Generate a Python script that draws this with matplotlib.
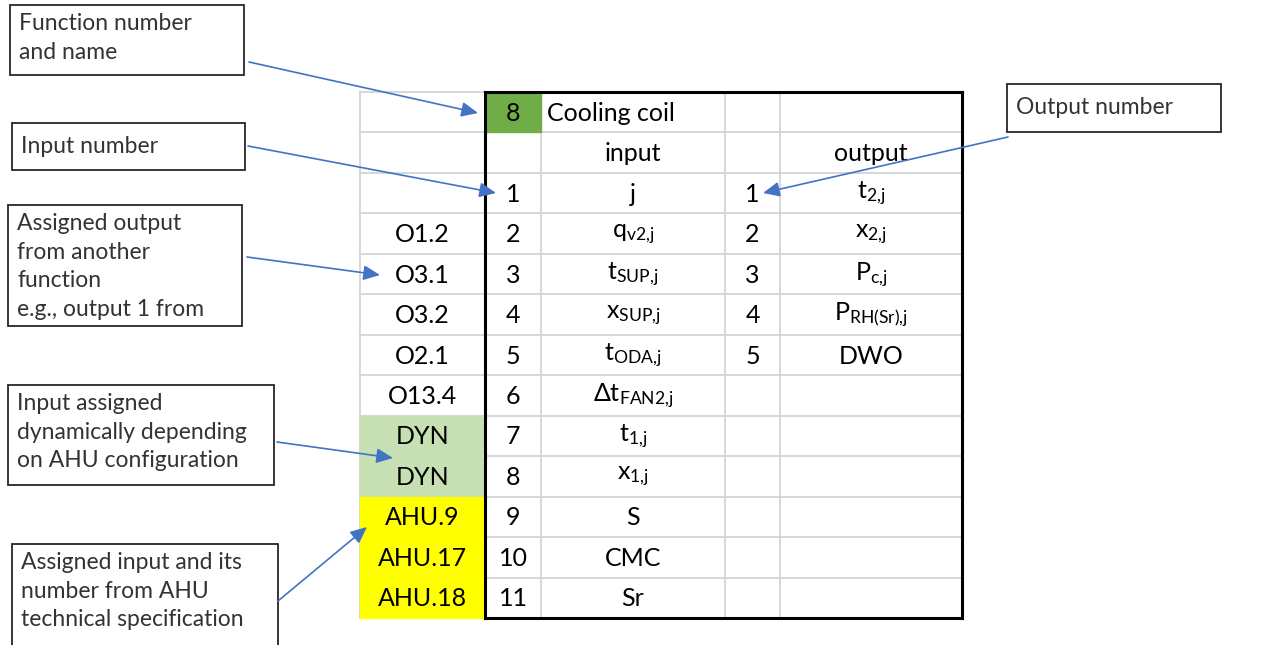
import matplotlib.pyplot as plt
from matplotlib.patches import Rectangle

plt.rcParams['mathtext.fontset'] = 'custom'
plt.rcParams['mathtext.rm'] = 'Lato'
plt.rcParams['mathtext.it'] = 'Lato:italic'
plt.rcParams['mathtext.bf'] = 'Lato:bold'

# table content
func_no = '8'
func_name = 'Cooling coil'
assigned = ['', '', '', 'O1.2', 'O3.1', 'O3.2', 'O2.1', 'O13.4',
            'DYN', 'DYN', 'AHU.9', 'AHU.17', 'AHU.18']
in_no = ['', '', '1', '2', '3', '4', '5', '6', '7', '8', '9', '10', '11']
in_name = ['', 'input', 'j', r'$\mathregular{q_{v2{,}j}}$', r'$\mathregular{t_{SUP{,}j}}$',
           r'$\mathregular{x_{SUP{,}j}}$', r'$\mathregular{t_{ODA{,}j}}$',
           r'$\mathregular{\Delta t_{FAN2{,}j}}$', r'$\mathregular{t_{1{,}j}}$',
           r'$\mathregular{x_{1{,}j}}$', 'S', 'CMC', 'Sr']
out_no = ['', '', '1', '2', '3', '4', '5', '', '', '', '', '', '']
out_name = ['', 'output', r'$\mathregular{t_{2{,}j}}$', r'$\mathregular{x_{2{,}j}}$',
            r'$\mathregular{P_{c{,}j}}$', r'$\mathregular{P_{RH(Sr){,}j}}$', 'DWO',
            '', '', '', '', '', '']

# callouts: text, box (x0, y0, x1, y1), arrow start, arrow tip
notes = ['Function number\nand name', 'Input number',
         'Assigned output\nfrom another\nfunction\ne.g., output 1 from',
         'Input assigned\ndynamically depending\non AHU configuration',
         'Assigned input and its\nnumber from AHU\ntechnical specification',
         'Output number']
boxes = [(10, 5, 244, 75), (12, 123, 245, 170), (8, 205, 242, 326),
         (8, 385, 274, 485), (12, 544, 278, 660), (1007, 84, 1221, 132)]
starts = [(249, 62), (248, 146), (247, 257), (277, 442), (278, 601), (1008, 137)]
tips = [(478, 113), (496, 193), (380, 275), (393, 458), (367, 527), (763, 193)]

fig = plt.figure(figsize=(12.74, 6.45), dpi=100)
ax = fig.add_axes([0, 0, 1, 1])
ax.set_xlim(0, 1274)
ax.set_ylim(645, 0)
ax.axis('off')

cols = [360, 485, 541, 725, 780, 962]
top, bottom = 92, 618
nrow = len(assigned)
rh = (bottom - top) / nrow
rows = [top + i * rh for i in range(nrow + 1)]
grid = '#d4d4d4'

# gridlines
for y in rows:
    ax.plot([cols[0], cols[-1]], [y, y], color=grid, lw=1.3, zorder=1)
for x in cols[:-1]:
    ax.plot([x, x], [top, bottom], color=grid, lw=1.3, zorder=1)

# fills
ax.add_patch(Rectangle((cols[1], rows[0]), cols[2] - cols[1], rh, color='#70ad47', zorder=2))
ax.add_patch(Rectangle((cols[0], rows[8]), cols[1] - cols[0], 2 * rh, color='#c6e0b4', zorder=2))
ax.add_patch(Rectangle((cols[0], rows[10]), cols[1] - cols[0], 3 * rh, color='#ffff00', zorder=2))

# black borders
ax.plot([cols[1], cols[1]], [top, bottom], color='black', lw=2.2, zorder=3)
ax.plot([cols[-1], cols[-1]], [top, bottom], color='black', lw=2.2, zorder=3)
ax.plot([cols[1], cols[-1]], [top, top], color='black', lw=2.2, zorder=3)
ax.plot([cols[1], cols[-1]], [bottom, bottom], color='black', lw=2.2, zorder=3)

fs = 18
tk = dict(fontsize=fs, family='Lato', ha='center', va='center', zorder=4)
ax.text((cols[1] + cols[2]) / 2, rows[0] + rh / 2 + 1, func_no, **tk)
ax.text(cols[2] + 6, rows[0] + rh / 2 + 1, func_name, fontsize=fs, family='Lato',
        ha='left', va='center', zorder=4)
for i in range(nrow):
    yc = rows[i] + rh / 2 + 1
    for j, lst in enumerate([assigned, in_no, in_name, out_no, out_name]):
        if lst[i]:
            ax.text((cols[j] + cols[j + 1]) / 2, yc, lst[i], **tk)

# callouts
for txt, (x0, y0, x1, y1), s, t in zip(notes, boxes, starts, tips):
    ax.add_patch(Rectangle((x0, y0), x1 - x0, y1 - y0, facecolor='white',
                           edgecolor='#262626', lw=1.3, zorder=5))
    if '\n' in txt:
        ax.text(x0 + 9, y0 + 8, txt, fontsize=16.5, family='Lato',
                color='#333333', ha='left', va='top', linespacing=1.45, zorder=6)
    else:
        ax.text(x0 + 9, (y0 + y1) / 2, txt, fontsize=16.5, family='Lato',
                color='#333333', ha='left', va='center', zorder=6)
    ax.annotate('', xy=t, xytext=s,
                arrowprops=dict(arrowstyle='-|>,head_length=1.0,head_width=0.45',
                                mutation_scale=10, color='#4472c4', lw=1.2,
                                shrinkA=0, shrinkB=0), zorder=7)

fig.savefig('out.png', dpi=100)
